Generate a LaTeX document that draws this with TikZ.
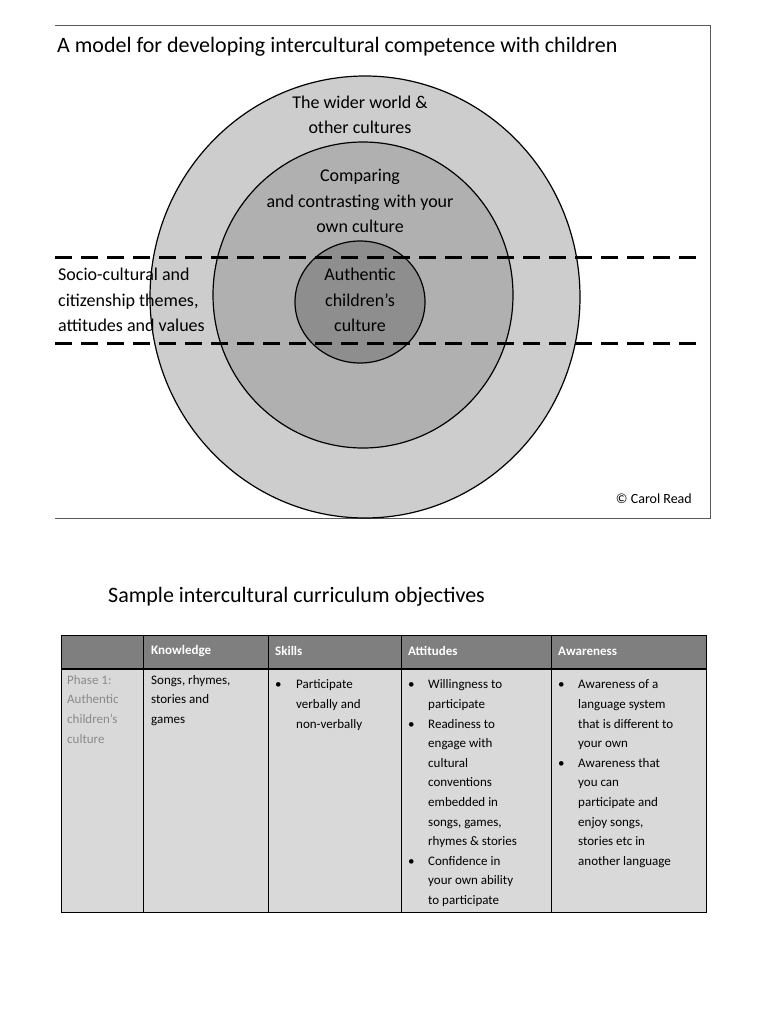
\documentclass[tikz,border=0pt]{standalone}
\usepackage{fontspec}
\setmainfont{Carlito}
\usepackage{array}
\definecolor{outerc}{HTML}{CDCDCD}
\definecolor{midc}{HTML}{B0B0B0}
\definecolor{innc}{HTML}{8E8E8E}
\definecolor{hdr}{HTML}{7F7F7F}
\definecolor{bodyc}{HTML}{D9D9D9}
\definecolor{phase}{HTML}{8A8A8A}
\begin{document}
\begin{tikzpicture}[x=1pt,y=-1pt,
  lab/.style={align=center,font=\fontsize{18}{25.5}\selectfont,inner sep=0},
  cell/.style={anchor=north west,align=left,inner sep=0,font=\fontsize{13}{19.6}\selectfont},
  hd/.style={anchor=west,inner sep=0,text=white,font=\fontsize{13}{16}\selectfont\bfseries},
  bandline/.style={line width=3pt,dash pattern=on 17pt off 9pt}]
\useasboundingbox (0,0) rectangle (768,1024);
\draw[line width=0.8pt,gray!70!black] (55,25) -- (710,25) -- (710,518) -- (55,518);
\node[anchor=west,inner sep=0,font=\fontsize{22}{26}\selectfont] (title) at (57,47) {A model for developing intercultural competence with children};
\draw[line width=1.2pt,fill=outerc] (365,297) ellipse [x radius=215, y radius=221];
\draw[line width=1.2pt,fill=midc] (363,295) ellipse [x radius=150, y radius=153];
\draw[line width=1.2pt,fill=innc] (360,302) ellipse [x radius=65, y radius=61];
\coordinate (l1a) at (55,257); \coordinate (l1b) at (700,257);
\coordinate (l2a) at (55,343); \coordinate (l2b) at (700,343);
\draw[bandline] (l1a) -- (l1b);
\draw[bandline] (l2a) -- (l2b);
\node[lab] (wider) at (360,115) {The wider world \&\\ other cultures};
\node[lab] (comp) at (360,201) {Comparing\\and contrasting with your\\own culture};
\node[lab] (auth) at (360,300) {Authentic\\children’s\\culture};
\node[lab,align=left,anchor=west] (socio) at (58,300) {Socio-cultural and\\citizenship themes,\\attitudes and values};
\node[anchor=east,inner sep=0,font=\fontsize{14}{16}\selectfont] (copy) at (692,499) {© Carol Read};
\node[anchor=west,inner sep=0,font=\fontsize{22}{26}\selectfont] (sub) at (108,597) {Sample intercultural curriculum objectives};
% table
\fill[hdr] (61,635) rectangle (706,669);
\fill[bodyc] (61,669) rectangle (706,912);
\draw[line width=1pt] (61,635) rectangle (706,912);
\draw[line width=1.6pt] (61,669) -- (706,669);
\foreach \x in {143,268,401,551} \draw[line width=1pt] (\x,635) -- (\x,912);
\node[hd] (h1) at (151,651) {Knowledge};
\node[hd] (h2) at (275,651) {Skills};
\node[hd] (h3) at (408,651) {Attitudes};
\node[hd] (h4) at (558,651) {Awareness};
\node[cell,text=phase] (c0) at (67,675) {Phase 1:\\Authentic\\children’s\\culture};
\node[cell] (c1) at (151,675) {Songs, rhymes,\\stories and\\games};
\node[cell] (c2) at (275,675) {\renewcommand{\arraystretch}{1}\begin{tabular}[t]{@{}p{21pt}@{}l@{}}
•&Participate\\ &verbally and\\ &non-verbally\end{tabular}};
\node[cell] (c3) at (408,675) {\renewcommand{\arraystretch}{1}\begin{tabular}[t]{@{}p{20pt}@{}l@{}}
•&Willingness to\\ &participate\\
•&Readiness to\\ &engage with\\ &cultural\\ &conventions\\ &embedded in\\ &songs, games,\\ &rhymes \& stories\\
•&Confidence in\\ &your own ability\\ &to participate\end{tabular}};
\node[cell] (c4) at (558,675) {\renewcommand{\arraystretch}{1}\begin{tabular}[t]{@{}p{20pt}@{}l@{}}
•&Awareness of a\\ &language system\\ &that is different to\\ &your own\\
•&Awareness that\\ &you can\\ &participate and\\ &enjoy songs,\\ &stories etc in\\ &another language\end{tabular}};
\end{tikzpicture}
\end{document}
